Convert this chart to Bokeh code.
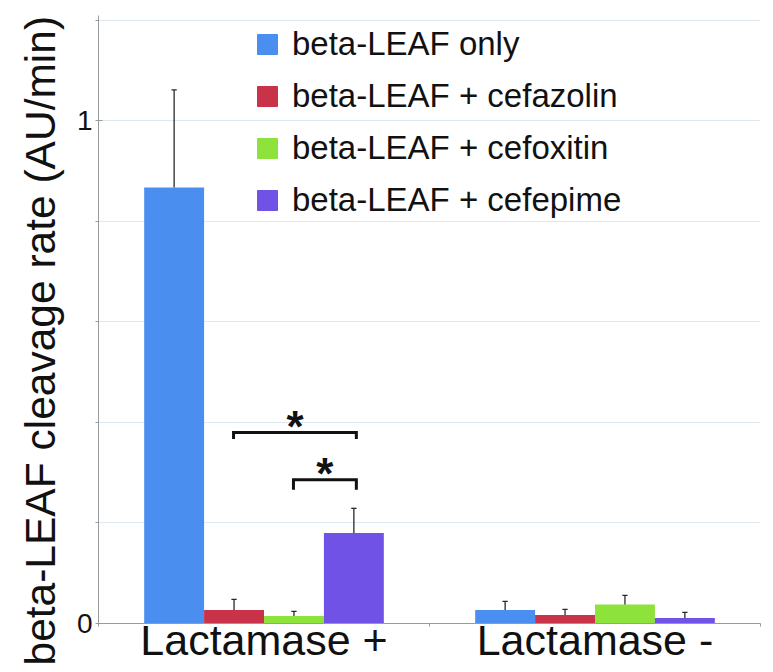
from bokeh.plotting import figure
from bokeh.models import ColumnDataSource, FixedTicker, Range1d, Legend, LegendItem, Title
from bokeh.core.properties import value
from bokeh.embed import file_html
from bokeh.resources import INLINE

# ---------------- data ----------------
groups = ["Lactamase +", "Lactamase -"]
series = ["beta-LEAF only", "beta-LEAF + cefazolin", "beta-LEAF + cefoxitin", "beta-LEAF + cefepime"]
colors = ["#4a8ff0", "#c8334a", "#8ee23c", "#7152e6"]

rate_only = [0.867, 0.027]
rate_cefazolin = [0.027, 0.017]
rate_cefoxitin = [0.015, 0.038]
rate_cefepime = [0.180, 0.011]

err_only = [0.194, 0.017]
err_cefazolin = [0.021, 0.011]
err_cefoxitin = [0.009, 0.018]
err_cefepime = [0.049, 0.011]

y_ticks = [0, 1]
y_minor = [0.2, 0.4, 0.6, 0.8, 1.2]
y_grid = [0.2, 0.4, 0.6, 0.8, 1.0, 1.2]

# significance brackets
sig_x0 = [0.408, 0.589]
sig_x1 = [0.779, 0.779]
sig_y = [0.380, 0.286]
sig_drop = [0.013, 0.020]
sig_text = ["*", "*"]

y_label = "beta-LEAF cleavage rate (AU/min)"

rates = [rate_only, rate_cefazolin, rate_cefoxitin, rate_cefepime]
errs = [err_only, err_cefazolin, err_cefoxitin, err_cefepime]

FONT = "Liberation Sans"
BAR_W = 0.181
CAP = 0.008

p = figure(width=773, height=672, x_range=Range1d(0, len(groups)), y_range=Range1d(0, 1.209),
           output_backend="svg", toolbar_location=None,
           min_border_left=98, min_border_right=13, min_border_top=15, min_border_bottom=49)
p.outline_line_color = None
p.background_fill_color = "white"
p.xgrid.visible = False
p.ygrid.ticker = FixedTicker(ticks=y_grid)
p.ygrid.grid_line_color = "#dce9f2"
p.ygrid.grid_line_width = 1

centers = [i + 0.5 for i in range(len(groups))]

for j, (name, col, r, e) in enumerate(zip(series, colors, rates, errs)):
    xs = [c + (j - 1.5) * BAR_W for c in centers]
    tops = [ri + ei for ri, ei in zip(r, e)]
    src = ColumnDataSource(dict(x=xs, top=r, hi=tops,
                                xl=[x - CAP for x in xs], xr=[x + CAP for x in xs]))
    p.vbar(x="x", top="top", width=BAR_W, bottom=0, source=src,
           fill_color=col, line_color=None)
    p.segment(x0="x", y0="top", x1="x", y1="hi", source=src, line_color="#2a2a2a", line_width=1.3)
    p.segment(x0="xl", y0="hi", x1="xr", y1="hi", source=src, line_color="#2a2a2a", line_width=1.3)

# brackets
bxs = [[a, a, b, b] for a, b in zip(sig_x0, sig_x1)]
bys = [[y - d, y, y, y - d] for y, d in zip(sig_y, sig_drop)]
p.multi_line(xs=bxs, ys=bys, line_color="#111111", line_width=3, line_join="miter")
p.text(x=[(a + b) / 2 for a, b in zip(sig_x0, sig_x1)], y=sig_y, text=sig_text,
       text_font=value(FONT), text_font_size="44px", text_font_style="bold",
       text_align="center", text_baseline="alphabetic", y_offset=-6, text_color="#111111")

# legend proxies (single point placed outside the visible ranges)
items = []
for name, col in zip(series, colors):
    rr = p.scatter(x=[-1], y=[-1], marker="square", size=1, fill_color=col, line_color=col)
    items.append(LegendItem(label=name, renderers=[rr], index=0))
legend = Legend(items=items, location=(144, 397), glyph_width=50, glyph_height=52,
                label_standoff=0, spacing=0, padding=0, margin=0,
                border_line_color=None, background_fill_alpha=0,
                label_text_font=FONT, label_text_font_size="33px", label_text_color="#111111")
p.add_layout(legend)

# axes
ya = p.yaxis[0]
ya.ticker = FixedTicker(ticks=y_ticks, minor_ticks=y_minor)
ya.axis_label = None
ya.axis_line_color = "#9a9a9a"
ya.major_tick_line_color = "#9a9a9a"
ya.minor_tick_line_color = "#9a9a9a"
ya.major_tick_in = 4
ya.major_tick_out = 3
ya.minor_tick_in = 0
ya.minor_tick_out = 3
ya.major_label_standoff = 3
ya.major_label_text_font = FONT
ya.major_label_text_font_size = "28px"
ya.major_label_text_color = "#111111"

xa = p.xaxis[0]
xa.ticker = FixedTicker(ticks=centers, minor_ticks=list(range(len(groups) + 1)))
xa.major_label_overrides = {c: g for c, g in zip(centers, groups)}
xa.axis_label = None
xa.axis_line_color = "#9a9a9a"
xa.major_tick_line_color = None
xa.major_tick_in = 0
xa.major_tick_out = 0
xa.minor_tick_line_color = "#9a9a9a"
xa.minor_tick_in = 0
xa.minor_tick_out = 3
xa.major_label_standoff = -11
xa.major_label_text_font = FONT
xa.major_label_text_font_size = "43px"
xa.major_label_text_color = "#111111"

title = Title(text=y_label, align="left", offset=-42, text_font=FONT, text_font_size="42.5px",
              text_font_style="normal", text_color="#111111", standoff=19)
p.add_layout(title, "left")

open("out.html", "w").write(file_html(p, INLINE))
